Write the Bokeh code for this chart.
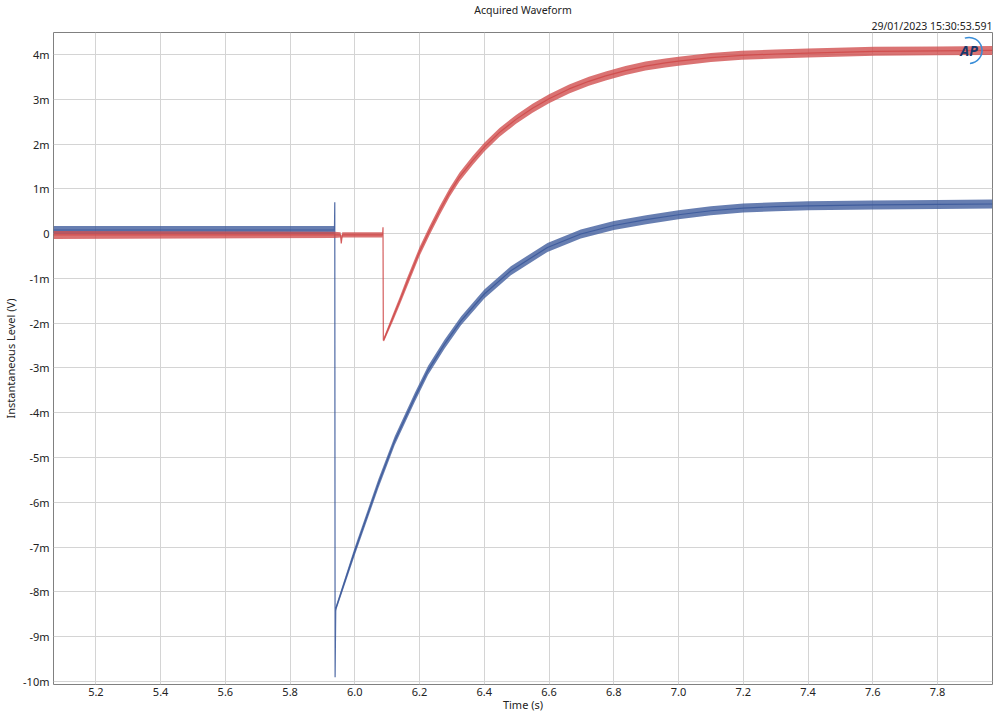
import numpy as np
from bokeh.plotting import figure
from bokeh.models import Range1d, FixedTicker, CustomJSTickFormatter, ColumnDataSource, Title
from bokeh.core.properties import value
from bokeh.embed import file_html
from bokeh.resources import INLINE

# ---------------- data ----------------
x_tick_values = [5.2, 5.4, 5.6, 5.8, 6.0, 6.2, 6.4, 6.6, 6.8, 7.0, 7.2, 7.4, 7.6, 7.8]
x_tick_labels = ["5.2", "5.4", "5.6", "5.8", "6.0", "6.2", "6.4", "6.6", "6.8",
                 "7.0", "7.2", "7.4", "7.6", "7.8"]
y_tick_values = [-10, -9, -8, -7, -6, -5, -4, -3, -2, -1, 0, 1, 2, 3, 4]
y_tick_labels = ["-10m", "-9m", "-8m", "-7m", "-6m", "-5m", "-4m", "-3m", "-2m",
                 "-1m", "0", "1m", "2m", "3m", "4m"]

# Channel B (blue): time (s), level (mV), noise half-width (mV)
blue_time = [5.069, 5.937, 5.938, 5.939, 5.941, 6.000, 6.072, 6.123, 6.185, 6.226,
             6.277, 6.328, 6.400, 6.482, 6.595, 6.698, 6.800, 6.900, 7.000, 7.100,
             7.200, 7.300, 7.400, 7.600, 7.800, 7.970]
blue_mv = [0.08, 0.08, 0.70, -9.91, -8.38, -7.09, -5.60, -4.63, -3.66, -3.06,
           -2.47, -1.95, -1.35, -0.83, -0.31, -0.01, 0.18, 0.31, 0.42, 0.51,
           0.57, 0.60, 0.62, 0.64, 0.65, 0.66]
blue_noise = [0.09, 0.09, 0.0, 0.0, 0.06, 0.09, 0.10, 0.10, 0.10, 0.10,
              0.10, 0.10, 0.10, 0.10, 0.10, 0.10, 0.10, 0.10, 0.10, 0.10,
              0.10, 0.10, 0.10, 0.10, 0.10, 0.10]

# Channel A (red)
red_time = [5.069, 5.937, 5.956, 5.958, 5.961, 6.086, 6.087, 6.088, 6.090, 6.118,
            6.139, 6.159, 6.200, 6.231, 6.262, 6.293, 6.323, 6.364, 6.400, 6.447,
            6.498, 6.549, 6.600, 6.662, 6.723, 6.775, 6.836, 6.898, 6.959, 7.000,
            7.100, 7.195, 7.300, 7.400, 7.605, 7.800, 7.970]
red_mv = [-0.03, -0.03, -0.03, -0.22, -0.03, -0.03, 0.14, -2.39, -2.36, -1.87,
          -1.50, -1.13, -0.40, 0.07, 0.51, 0.92, 1.26, 1.63, 1.93, 2.26,
          2.55, 2.80, 3.01, 3.23, 3.40, 3.52, 3.64, 3.74, 3.81, 3.85,
          3.93, 3.98, 4.01, 4.03, 4.07, 4.08, 4.09]
red_noise = [0.09, 0.07, 0.06, 0.0, 0.06, 0.06, 0.0, 0.0, 0.05, 0.08,
             0.09, 0.10, 0.10, 0.10, 0.10, 0.10, 0.10, 0.10, 0.10, 0.10,
             0.10, 0.10, 0.10, 0.10, 0.10, 0.10, 0.10, 0.10, 0.10, 0.10,
             0.10, 0.10, 0.10, 0.10, 0.10, 0.10, 0.10]

title_text = "Acquired Waveform"
date_text = "29/01/2023 15:30:53.591"
x_label = "Time (s)"
y_label = "Instantaneous Level (V)"

x_start, x_end = 5.069, 7.970
y_start, y_end = -10.07, 4.49

BLUE = "#3c5a9b"
RED = "#cf4b4b"
FONT = "Noto Sans"
TXT = "#222222"

# ---------------- figure ----------------
p = figure(width=1000, height=715, output_backend="svg", toolbar_location=None,
           x_range=Range1d(x_start, x_end), y_range=Range1d(y_start, y_end),
           min_border_left=49, min_border_right=8, min_border_top=32, min_border_bottom=31)
p.background_fill_color = "white"
p.border_fill_color = "white"
p.outline_line_color = "#808080"
p.outline_line_width = 1

# titles: first added sits closest to the plot
p.add_layout(Title(text=date_text, align="right", text_font=FONT, text_font_size="10.5px",
                   text_font_style="normal", text_color=TXT, standoff=0), "above")
p.add_layout(Title(text=title_text, align="center", text_font=FONT, text_font_size="10.5px",
                   text_font_style="normal", text_color=TXT, standoff=0), "above")

p.xaxis.ticker = FixedTicker(ticks=x_tick_values)
p.yaxis.ticker = FixedTicker(ticks=y_tick_values)
p.xaxis.formatter = CustomJSTickFormatter(args=dict(vals=x_tick_values, labs=x_tick_labels),
    code="const i = vals.indexOf(tick); return i >= 0 ? labs[i] : '';")
p.yaxis.formatter = CustomJSTickFormatter(args=dict(vals=y_tick_values, labs=y_tick_labels),
    code="const i = vals.indexOf(tick); return i >= 0 ? labs[i] : '';")

for ax in (p.xaxis, p.yaxis):
    ax.axis_line_color = None
    ax.major_tick_line_color = None
    ax.minor_tick_line_color = None
    ax.major_tick_out = 0
    ax.major_tick_in = 0
    ax.minor_tick_out = 0
    ax.minor_tick_in = 0
    ax.major_label_text_font = FONT
    ax.major_label_text_font_size = "11px"
    ax.major_label_text_color = TXT
    ax.axis_label_text_font = FONT
    ax.axis_label_text_font_size = "11px"
    ax.axis_label_text_font_style = "normal"
    ax.axis_label_text_color = TXT

p.xaxis.axis_label = x_label
p.yaxis.axis_label = y_label
p.xaxis.major_label_standoff = 3
p.xaxis.axis_label_standoff = -2
p.yaxis.major_label_standoff = 4
p.yaxis.axis_label_standoff = 2

p.grid.grid_line_color = "#d4d4d4"
p.grid.grid_line_width = 1

# ---------------- traces ----------------
def trace(t, v, hw, color):
    t = np.asarray(t, float)
    v = np.asarray(v, float)
    hw = np.asarray(hw, float)
    src = ColumnDataSource(dict(t=t, v=v, lo=v - hw, hi=v + hw))
    p.varea(x="t", y1="lo", y2="hi", source=src, fill_color=color, fill_alpha=0.78)
    p.line(x="t", y="v", source=src, line_color=color, line_width=1.2, line_alpha=0.9)

trace(blue_time, blue_mv, blue_noise, BLUE)
trace(red_time, red_mv, red_noise, RED)

# ---------------- AP logo (decoration) ----------------
logo_x = x_end - 0.025 * (x_end - x_start)
logo_y = y_end - 0.0275 * (y_end - y_start)
p.text(x=[logo_x], y=[logo_y], text=["AP"], text_font=value(FONT),
       text_font_style="bold italic", text_font_size="14px", text_color="#17386b",
       text_align="center", text_baseline="middle")
p.arc(x=[logo_x], y=[logo_y], radius=13, radius_units="screen",
      start_angle=-1.5, end_angle=1.9, line_color="#3a8ed8", line_width=1.5)

open("out.html", "w").write(file_html(p, INLINE))
